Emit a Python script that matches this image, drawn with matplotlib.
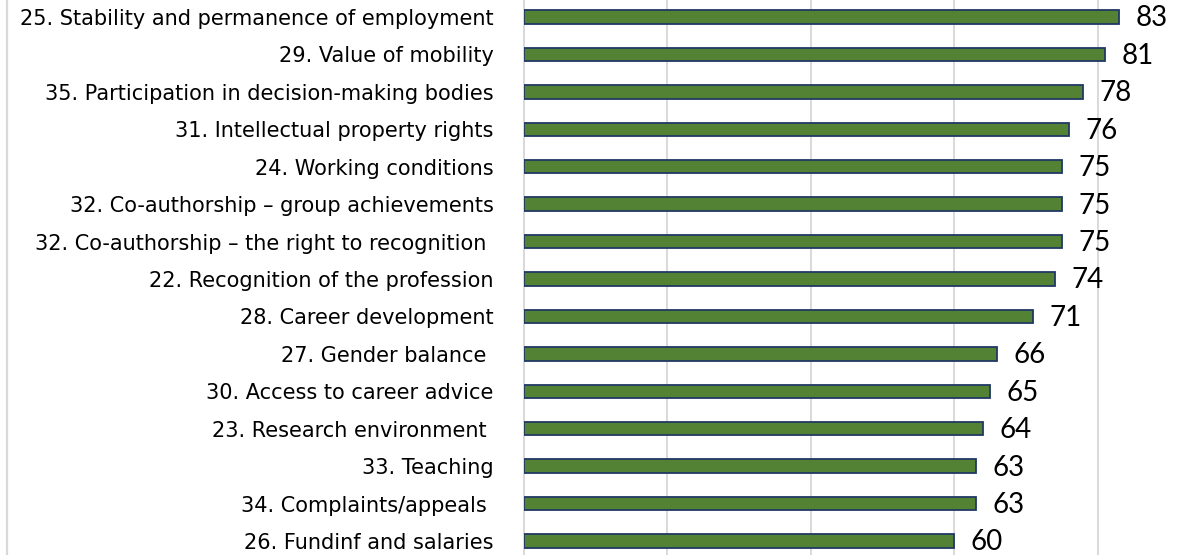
'''
Horizontal bar chart of rated aspects (percent)
'''
import matplotlib
matplotlib.use('Agg')
import matplotlib.pyplot as plt
from matplotlib.lines import Line2D

labels = [
    '25. Stability and permanence of employment',
    '29. Value of mobility',
    '35. Participation in decision-making bodies',
    '31. Intellectual property rights',
    '24. Working conditions',
    '32. Co-authorship \u2013 group achievements',
    '32. Co-authorship \u2013 the right to recognition ',
    '22. Recognition of the profession',
    '28. Career development',
    '27. Gender balance ',
    '30. Access to career advice',
    '23. Research environment ',
    '33. Teaching',
    '34. Complaints/appeals ',
    '26. Fundinf and salaries',
]
values = [83, 81, 78, 76, 75, 75, 75, 74, 71, 66, 65, 64, 63, 63, 60]
grid_ticks = [0, 20, 40, 60, 80]

fig = plt.figure(figsize=(11.89, 5.55), dpi=100)
ax = fig.add_axes([524 / 1189, -4.7 / 555, 665 / 1189, 561.4 / 555])

pos = list(range(len(values)))
ax.barh(pos, values, height=0.36, color='#548235', edgecolor='#203864',
        linewidth=1.3, zorder=3)

for p, v in zip(pos, values):
    ax.annotate(str(v), (v, p), xytext=(12, -1), textcoords='offset points',
                ha='left', va='center', fontsize=20, family='Lato',
                color='black', zorder=4, annotation_clip=False)

ax.set_ylim(len(values) - 0.5, -0.5)
ax.set_xlim(0, 665 / 7.17)
ax.set_xticks(grid_ticks)
ax.set_xticklabels([])
ax.set_yticks(pos)
ax.set_yticklabels(labels, fontsize=15, family='DejaVu Sans', color='black')
ax.tick_params(axis='y', length=0, pad=22)
ax.tick_params(axis='x', length=0)
ax.grid(axis='x', color='#d9d9d9', linewidth=1.4, zorder=0)
for s in ['top', 'right', 'bottom']:
    ax.spines[s].set_visible(False)
ax.spines['left'].set_color('#d9d9d9')
ax.spines['left'].set_linewidth(1.4)

# chart area border on the left
fig.add_artist(Line2D([7 / 1189, 7 / 1189], [0, 1], color='#d9d9d9',
                      linewidth=1.6, transform=fig.transFigure))

fig.savefig('out.png', dpi=100)
